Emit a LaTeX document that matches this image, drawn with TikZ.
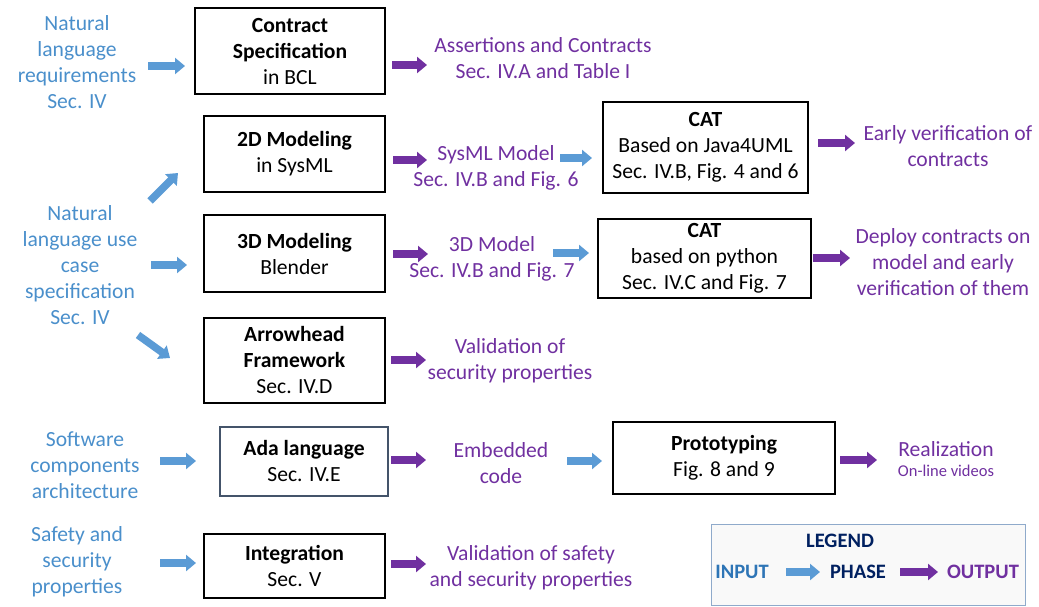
\documentclass[tikz,border=0pt]{standalone}
\usepackage{fontspec}
\setmainfont{Carlito}
\usetikzlibrary{arrows.meta}
\definecolor{inblue}{HTML}{4A8FCB}
\definecolor{arrblue}{HTML}{5B9BD5}
\definecolor{outpurple}{HTML}{7030A0}
\definecolor{navy}{HTML}{002060}
\definecolor{slate}{HTML}{44546A}
\definecolor{legborder}{HTML}{8FAACB}
\definecolor{legfill}{HTML}{F9F9F9}
\definecolor{legblue}{HTML}{2E75B6}
\tikzset{
  txt/.style={align=center,inner sep=0pt,font=\fontsize{21.6}{26}\selectfont},
  intxt/.style={txt,text=inblue},
  outtxt/.style={txt,text=outpurple},
  phase/.style={txt,draw=black,line width=2.4pt,text=black},
  barrow/.style={draw=arrblue,line width=7.5pt,-{Triangle[width=16pt,length=10pt]}},
  parrow/.style={draw=outpurple,line width=7.5pt,-{Triangle[width=16pt,length=10pt]}},
  legtxt/.style={txt,font=\bfseries\fontsize{20.5}{24}\selectfont},
}
\begin{document}
\begin{tikzpicture}[x=1pt,y=-1pt]
\useasboundingbox (0,0) rectangle (1039,607);

% phase boxes
\node[phase,minimum width=190pt,minimum height=86pt] (contract) at (290,51)
  {\textbf{Contract}\\\textbf{Specification}\\in BCL};
\node[phase,minimum width=181pt,minimum height=76pt] (twod) at (294.5,154)
  {\textbf{2D Modeling}\\in SysML};
\node[phase,minimum width=205pt,minimum height=91pt] (cat1) at (705.5,147.5)
  {\textbf{CAT}\\Based on Java4UML\\Sec. IV.B, Fig. 4 and 6};
\node[phase,minimum width=181pt,minimum height=77pt] (threed) at (294.5,253.5)
  {\textbf{3D Modeling}\\Blender};
\node[phase,minimum width=213pt,minimum height=79pt] (cat2) at (704.5,258.5)
  {\textbf{CAT}\\based on python\\Sec. IV.C and Fig. 7};
\node[phase,minimum width=181pt,minimum height=85pt] (arrowhead) at (294.5,360.5)
  {\textbf{Arrowhead}\\\textbf{Framework}\\Sec. IV.D};
\node[phase,draw=slate,line width=2pt,minimum width=168pt,minimum height=69pt] (ada) at (304,461.5)
  {\textbf{Ada language}\\Sec. IV.E};
\node[phase,minimum width=222pt,minimum height=72pt] (proto) at (724,458)
  {\textbf{Prototyping}\\Fig. 8 and 9};
\node[phase,minimum width=181pt,minimum height=64pt] (integ) at (294.5,566)
  {\textbf{Integration}\\Sec. V};

% inputs
\node[intxt] (in1) at (77,62) {Natural\\language\\requirements\\Sec. IV};
\node[intxt] (in2) at (80,265) {Natural\\language use\\case\\specification\\Sec. IV};
\node[intxt] (in3) at (85,465) {Software\\components\\architecture};
\node[intxt] (in4) at (77,562) {Safety and\\security\\properties};

% outputs
\node[outtxt] (out1) at (543,58) {Assertions and Contracts\\Sec. IV.A and Table I};
\node[outtxt] (out2a) at (496,168) {SysML Model\\Sec. IV.B and Fig. 6};
\node[outtxt] (out2b) at (948,146) {Early verification of\\contracts};
\node[outtxt] (out3a) at (492,259) {3D Model\\Sec. IV.B and Fig. 7};
\node[outtxt] (out3b) at (943,262) {Deploy contracts on\\model and early\\verification of them};
\node[outtxt] (out4) at (510,361) {Validation of\\security properties};
\node[outtxt] (out5a) at (501,463) {Embedded\\code};
\node[outtxt] (out5b) at (946,449) {Realization};
\node[outtxt,font=\fontsize{16.5}{20}\selectfont] (out5c) at (946,471) {On-line videos};
\node[outtxt] (out6) at (531,568) {Validation of safety\\and security properties};

% arrow end points
\coordinate (b1s) at (148,66);  \coordinate (b1e) at (185,66);
\coordinate (b2s) at (150,201); \coordinate (b2e) at (178,173);
\coordinate (b3s) at (151,265); \coordinate (b3e) at (187,265);
\coordinate (b4s) at (138,335); \coordinate (b4e) at (170,358);
\coordinate (b5s) at (160,461); \coordinate (b5e) at (196,461);
\coordinate (b6s) at (160,563); \coordinate (b6e) at (196,563);
\coordinate (b7s) at (560,158); \coordinate (b7e) at (592,158);
\coordinate (b8s) at (553,253); \coordinate (b8e) at (589,253);
\coordinate (b9s) at (567,461); \coordinate (b9e) at (602,461);
\coordinate (p1s) at (392,65);  \coordinate (p1e) at (427,65);
\coordinate (p2s) at (393,160); \coordinate (p2e) at (427,160);
\coordinate (p3s) at (818,143); \coordinate (p3e) at (855,143);
\coordinate (p4s) at (393,254); \coordinate (p4e) at (428,254);
\coordinate (p5s) at (813,258); \coordinate (p5e) at (850,258);
\coordinate (p6s) at (391,360); \coordinate (p6e) at (426,360);
\coordinate (p7s) at (391,460); \coordinate (p7e) at (426,460);
\coordinate (p8s) at (840,460); \coordinate (p8e) at (877,460);
\coordinate (p9s) at (391,564); \coordinate (p9e) at (426,564);

% input arrows
\draw[barrow] (b1s) -- (b1e);
\draw[barrow] (b2s) -- (b2e);
\draw[barrow] (b3s) -- (b3e);
\draw[barrow] (b4s) -- (b4e);
\draw[barrow] (b5s) -- (b5e);
\draw[barrow] (b6s) -- (b6e);
% output to next phase arrows
\draw[barrow] (b7s) -- (b7e);
\draw[barrow] (b8s) -- (b8e);
\draw[barrow] (b9s) -- (b9e);
% output arrows
\draw[parrow] (p1s) -- (p1e);
\draw[parrow] (p2s) -- (p2e);
\draw[parrow] (p3s) -- (p3e);
\draw[parrow] (p4s) -- (p4e);
\draw[parrow] (p5s) -- (p5e);
\draw[parrow] (p6s) -- (p6e);
\draw[parrow] (p7s) -- (p7e);
\draw[parrow] (p8s) -- (p8e);
\draw[parrow] (p9s) -- (p9e);

% legend
\node[draw=legborder,fill=legfill,line width=1pt,minimum width=314pt,minimum height=81pt,inner sep=0pt] (legend) at (868,564.5) {};
\node[legtxt,text=navy] (legtitle) at (840,541) {LEGEND};
\node[legtxt,text=legblue] (leginput) at (742,572) {INPUT};
\node[legtxt,text=navy] (legphase) at (858,572) {PHASE};
\node[legtxt,text=outpurple] (legoutput) at (983,572) {OUTPUT};
\coordinate (l1s) at (786,572); \coordinate (l1e) at (820,572);
\coordinate (l2s) at (900,572); \coordinate (l2e) at (938,572);
\draw[barrow] (l1s) -- (l1e);
\draw[parrow] (l2s) -- (l2e);
\end{tikzpicture}
\end{document}
